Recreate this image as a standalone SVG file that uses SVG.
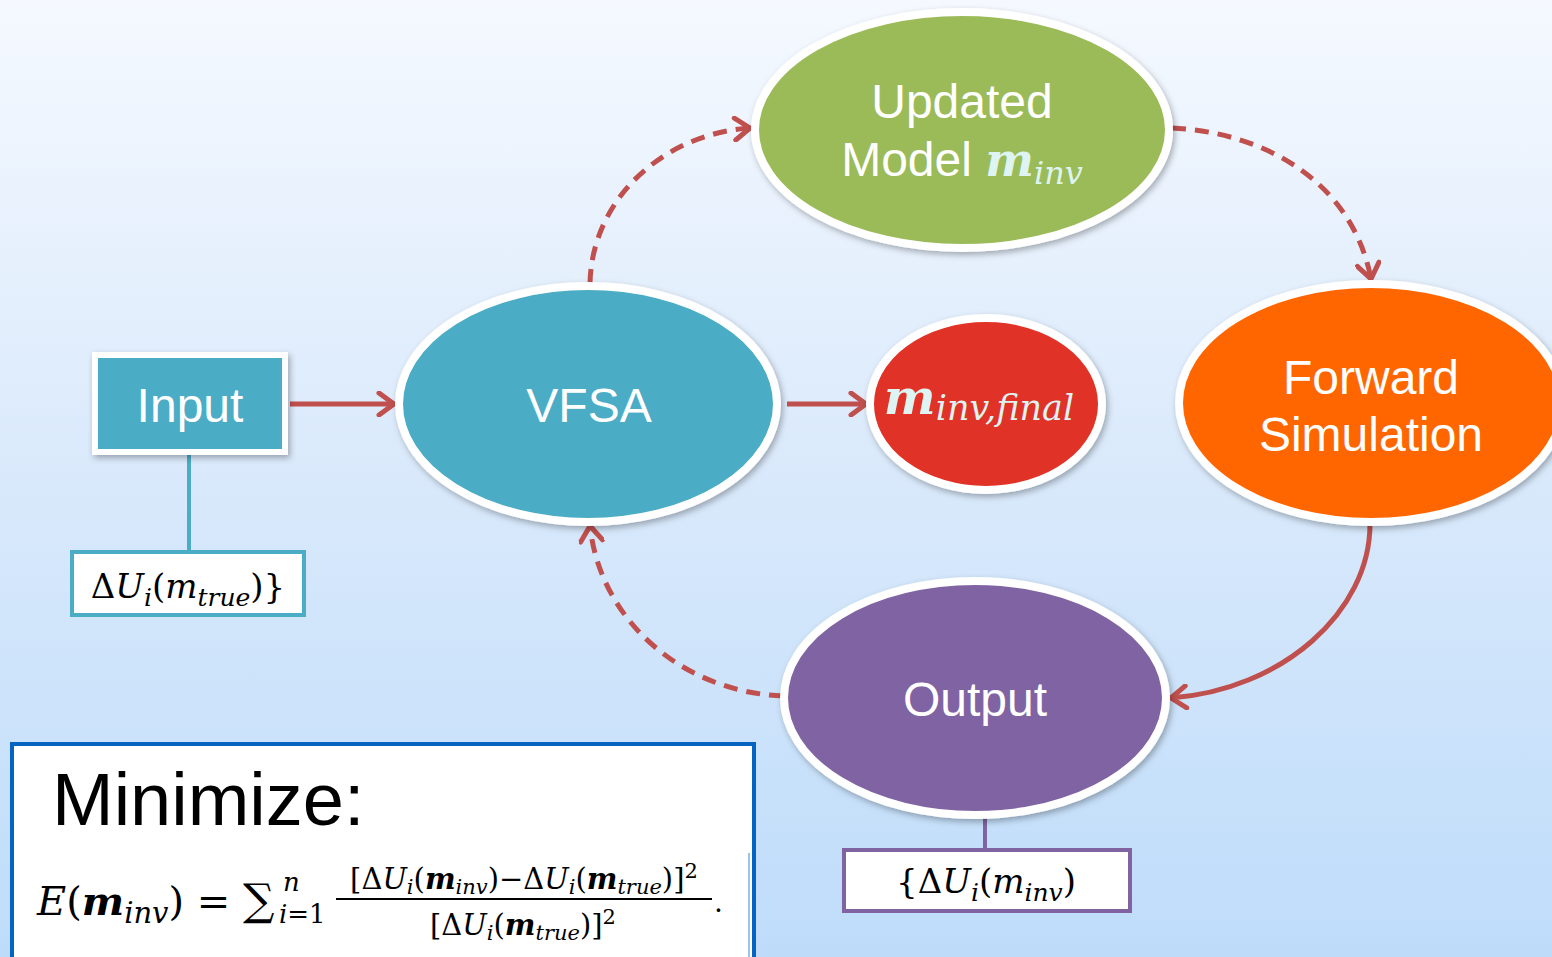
<svg xmlns="http://www.w3.org/2000/svg" width="1552" height="957" viewBox="0 0 1552 957">
  <defs>
    <linearGradient id="bg" x1="0" y1="0" x2="0" y2="1">
      <stop offset="0" stop-color="#F5F9FF"/>
      <stop offset="0.5" stop-color="#D9E9FB"/>
      <stop offset="1" stop-color="#BEDCFA"/>
    </linearGradient>
    <filter id="shadow" x="-10%" y="-10%" width="120%" height="130%">
      <feDropShadow dx="2" dy="3" stdDeviation="3" flood-color="#000" flood-opacity="0.3"/>
    </filter>
    <marker id="arrow" viewBox="0 0 22 26" refX="19" refY="13" markerWidth="22" markerHeight="26" markerUnits="userSpaceOnUse" orient="auto">
      <path d="M4,2 L19,13 L4,24" fill="none" stroke="#C0504D" stroke-width="5" stroke-linecap="round" stroke-linejoin="round"/>
    </marker>
    <style>
      .node { stroke: #FFFFFF; stroke-width: 8; filter: url(#shadow); }
      .label { font-family: "Liberation Sans", Arial, sans-serif; font-size: 48px; fill: #FFFFFF; text-anchor: middle; }
      .math { font-family: "DejaVu Serif", "Liberation Serif", serif; font-style: italic; }
      .mathup { font-family: "DejaVu Serif", "Liberation Serif", serif; font-style: normal; }
      .conn { fill: none; stroke: #C0504D; stroke-width: 5; marker-end: url(#arrow); }
      .dash { stroke-dasharray: 14 9; }
      .stem { stroke-width: 4; fill: none; }
      .valbox { fill: #FFFFFF; stroke-width: 4; }
    </style>
  </defs>

  <rect x="0" y="0" width="1552" height="957" fill="url(#bg)"/>

  <!-- connectors -->
  <g id="connectors">
    <line class="conn" x1="290" y1="404" x2="394" y2="404"/>
    <line class="conn" x1="787" y1="404" x2="866" y2="404"/>
    <path class="conn dash" d="M590,283 C592,200 662,134 750,128"/>
    <path class="conn dash" d="M1172,128 C1262,132 1352,180 1371,279"/>
    <path class="conn" d="M1370,524 C1370,612 1282,690 1171,698"/>
    <path class="conn dash" d="M783,696 C682,692 600,620 590,526"/>
    <line class="stem" x1="189" y1="455" x2="189" y2="551" stroke="#4BACC6"/>
    <line class="stem" x1="985" y1="816" x2="985" y2="849" stroke="#8064A2"/>
  </g>

  <!-- Input -->
  <g id="input">
    <rect x="95" y="355" width="190" height="97" fill="#4BACC6" stroke="#FFFFFF" stroke-width="6" filter="url(#shadow)"/>
    <text class="label" x="190" y="422">Input</text>
  </g>

  <!-- Observed data -->
  <g id="observed">
    <rect class="valbox" x="72" y="552" width="232" height="63" stroke="#4BACC6"/>
    <text x="188" y="598" text-anchor="middle" font-size="34" fill="#000"><tspan class="mathup">Δ</tspan><tspan class="math">U</tspan><tspan class="math" font-size="25" dy="8">i</tspan><tspan class="mathup" dy="-8">(</tspan><tspan class="math">m</tspan><tspan class="math" font-size="25" dy="8">true</tspan><tspan class="mathup" dy="-8">)}</tspan></text>
  </g>

  <!-- VFSA -->
  <g id="vfsa">
    <ellipse class="node" cx="588" cy="404" rx="189" ry="118" fill="#4BACC6"/>
    <text class="label" x="589" y="422">VFSA</text>
  </g>

  <!-- Updated model -->
  <g id="updated-model">
    <ellipse class="node" cx="962" cy="130" rx="207" ry="118" fill="#9BBB59"/>
    <text class="label" x="962" y="118">Updated</text>
    <text class="label" x="962" y="176">Model <tspan class="math" font-weight="bold" font-size="46" fill="#DDF4F2">m</tspan><tspan class="math" font-size="32" fill="#DDF4F2" dy="8">inv</tspan></text>
  </g>

  <!-- Final model -->
  <g id="final-model">
    <ellipse class="node" cx="986" cy="404" rx="116" ry="86" fill="#E03125"/>
    <text x="979" y="414" text-anchor="middle" fill="#DDF4F2"><tspan class="math" font-weight="bold" font-size="49">m</tspan><tspan class="math" font-size="35" dy="6">inv,final</tspan></text>
  </g>

  <!-- Forward simulation -->
  <g id="forward-simulation">
    <ellipse class="node" cx="1371" cy="403" rx="192" ry="119" fill="#FF6600"/>
    <text class="label" x="1371" y="394">Forward</text>
    <text class="label" x="1371" y="451">Simulation</text>
  </g>

  <!-- Output -->
  <g id="output">
    <ellipse class="node" cx="975" cy="698" rx="191" ry="117" fill="#8064A2"/>
    <text class="label" x="975" y="716">Output</text>
  </g>

  <!-- Simulated data -->
  <g id="simulated">
    <rect class="valbox" x="844" y="850" width="286" height="61" stroke="#8064A2"/>
    <text x="986" y="893" text-anchor="middle" font-size="34" fill="#000"><tspan class="mathup">{Δ</tspan><tspan class="math">U</tspan><tspan class="math" font-size="25" dy="8">i</tspan><tspan class="mathup" dy="-8">(</tspan><tspan class="math">m</tspan><tspan class="math" font-size="25" dy="8">inv</tspan><tspan class="mathup" dy="-8">)</tspan></text>
  </g>

  <!-- Objective function -->
  <g id="objective">
    <rect x="12" y="744" width="742" height="230" fill="#FFFFFF" stroke="#0563C1" stroke-width="4"/>
    <line x1="749" y1="853" x2="749" y2="957" stroke="#9CC3EC" stroke-width="2"/>
    <text x="52" y="825" font-family="'Liberation Sans', Arial, sans-serif" font-size="74" fill="#000">Minimize:</text>
    <text x="37" y="915" font-size="40" fill="#000"><tspan class="math">E</tspan><tspan class="mathup">(</tspan><tspan class="math" font-weight="bold">m</tspan><tspan class="math" font-size="29" dy="8">inv</tspan><tspan class="mathup" dy="-8">) = </tspan><tspan class="mathup" font-size="44">∑</tspan></text>
    <text x="279" y="923" font-size="26" fill="#000"><tspan class="math">i</tspan><tspan class="mathup">=1</tspan></text>
    <text x="283" y="891" font-size="26" class="math" fill="#000">n</text>
    <text x="524" y="889" text-anchor="middle" font-size="29" fill="#000"><tspan class="mathup">[Δ</tspan><tspan class="math">U</tspan><tspan class="math" font-size="21" dy="5">i</tspan><tspan class="mathup" dy="-5">(</tspan><tspan class="math" font-weight="bold">m</tspan><tspan class="math" font-size="21" dy="5">inv</tspan><tspan class="mathup" dy="-5">)−Δ</tspan><tspan class="math">U</tspan><tspan class="math" font-size="21" dy="5">i</tspan><tspan class="mathup" dy="-5">(</tspan><tspan class="math" font-weight="bold">m</tspan><tspan class="math" font-size="21" dy="5">true</tspan><tspan class="mathup" dy="-5">)]</tspan><tspan class="mathup" font-size="21" dy="-11">2</tspan></text>
    <line x1="336" y1="899" x2="712" y2="899" stroke="#000" stroke-width="2"/>
    <text x="523" y="935" text-anchor="middle" font-size="29" fill="#000"><tspan class="mathup">[Δ</tspan><tspan class="math">U</tspan><tspan class="math" font-size="21" dy="5">i</tspan><tspan class="mathup" dy="-5">(</tspan><tspan class="math" font-weight="bold">m</tspan><tspan class="math" font-size="21" dy="5">true</tspan><tspan class="mathup" dy="-5">)]</tspan><tspan class="mathup" font-size="21" dy="-11">2</tspan></text>
    <text x="714" y="912" font-size="28" class="mathup" fill="#000">.</text>
  </g>
</svg>
